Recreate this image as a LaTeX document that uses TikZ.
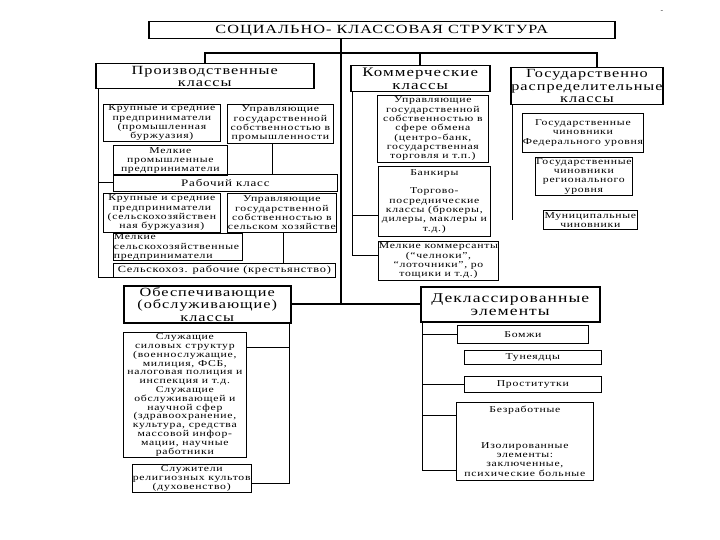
\documentclass[tikz,border=0pt]{standalone}
\usepackage{fontspec}
\newfontfamily\rf[LetterSpace=8,FakeStretch=1.3]{Liberation Serif}
\begin{document}
\begin{tikzpicture}[x=1pt,y=-1pt,
  sz/.style 2 args={minimum width=#1pt, minimum height=#2pt},
  bx/.style={draw, line width=0.7pt, inner sep=0.5pt, align=center, anchor=north west, font=\rf\fontsize{9}{9.3}\selectfont},
  hd/.style={draw, line width=1.5pt, inner sep=0.5pt, align=center, anchor=north west, font=\rf\fontsize{12.5}{12.5}\selectfont},
  md/.style={bx, font=\rf\fontsize{9.5}{11}\selectfont},
  thin/.style={line width=0.7pt},
  trunk/.style={line width=1.6pt}]
\fill[white] (0,0) rectangle (720,540);
\useasboundingbox (0,0) rectangle (720,540);

\node[font=\rf\fontsize{6}{6}\selectfont, inner sep=0pt] (mark) at (662,12) {-};

\node[hd, sz={466}{17}] (title) at (148,21) {СОЦИАЛЬНО- КЛАССОВАЯ СТРУКТУРА};

% production
\node[hd, sz={218}{25}] (prod) at (95,63) {Производственные\\классы};
\node[bx, sz={117}{36}] (krup1) at (103,104) {Крупные и средние\\предприниматели\\(промышленная\\буржуазия)};
\node[bx, sz={106}{39}] (upr1) at (227,104) {Управляющие\\государственной\\собственностью в\\промышленности};
\node[bx, sz={114}{30}] (melk1) at (113,145) {Мелкие\\промышленные\\предприниматели};
\node[md, font=\rf\fontsize{10}{11}\selectfont, sz={224}{17}] (rab) at (113,174) {Рабочий класс};
\node[bx, sz={117}{39}] (krup2) at (103,193) {Крупные и средние\\предприниматели\\(сельскохозяйствен\\ная буржуазия)};
\node[bx, sz={108}{39}] (upr2) at (227,193) {Управляющие\\государственной\\собственностью в\\сельском хозяйстве};
\node[bx, align=left, text width=128pt, minimum height=26pt] (melk2) at (113,233) {Мелкие\\сельскохозяйственные\\предприниматели};
\node[md, sz={222}{14}] (sel) at (113,263) {Сельскохоз. рабочие (крестьянство)};

% commerce
\node[hd, font=\rf\fontsize{13}{12.5}\selectfont, sz={139}{26}] (kom) at (350,65) {Коммерческие\\классы};
\node[bx, sz={111}{67}] (upr3) at (377,95) {Управляющие\\государственной\\собственностью в\\сфере обмена\\(центро-банк,\\государственная\\торговля и т.п.)};
\node[bx, sz={112}{70}] (bank) at (378,166) {Банкиры\\[9pt]Торгово-\\посреднические\\классы (брокеры,\\дилеры, маклеры и\\т.д.)};
\node[bx, sz={120}{39}] (melk3) at (378,241) {Мелкие коммерсанты\\(“челноки”,\\“лоточники”, ро\\тощики и т.д.)};

% state
\node[hd, sz={145}{37}] (gos) at (510,67) {Государственно\\распределительные\\классы};
\node[bx, sz={110}{39}] (fed) at (522,113) {Государственные\\чиновники\\Федерального уровня};
\node[bx, sz={97}{38}] (reg) at (535,157) {Государственные\\чиновники\\регионального\\уровня};
\node[bx, sz={94}{19}] (mun) at (543,210) {Муниципальные\\чиновники};

% service
\node[hd, sz={167}{37}] (obes) at (123,285) {Обеспечивающие\\(обслуживающие)\\классы};
\node[bx, font=\rf\fontsize{9}{8.8}\selectfont, sz={123}{125}] (sl1) at (123,332) {Служащие\\силовых структур\\(военнослужащие,\\милиция, ФСБ,\\налоговая полиция и\\инспекция и т.д.\\Служащие\\обслуживающей и\\научной сфер\\(здравоохранение,\\культура, средства\\массовой инфор-\\мации, научные\\работники};
\node[bx, sz={113}{28}] (sl2) at (132,464) {Служители\\религиозных культов\\(духовенство)};

% declassed
\node[hd, font=\rf\fontsize{13.5}{13}\selectfont, sz={179}{35}] (dekl) at (420,286) {Деклассированные\\элементы};
\node[bx, sz={131}{18}] (bomzh) at (457,325) {Бомжи};
\node[bx, sz={137}{14}] (tun) at (464,350) {Тунеядцы};
\node[bx, sz={137}{16}] (prost) at (464,376) {Проститутки};
\node[bx, sz={137}{78}] (bez) at (456,402) {Безработные\\[26pt]Изолированные\\элементы:\\заключенные,\\психические больные};

% trunk connectors
\coordinate (hb) at (0,53);
\coordinate (tk) at (341,0);
\coordinate (gx) at (597,0);
\draw[trunk] (title.south -| tk) -- (tk |- obes.east);
\draw[trunk] (prod.north) -- (prod.north |- hb) -- (hb -| gx) -- (gx |- gos.north);
\draw[trunk] (kom.north) -- (kom.north |- hb);
\draw[trunk] (obes.east) -- (obes.east -| dekl.west);

% production frame
\coordinate (s1) at (98,0);
\draw[thin] (prod.south -| s1) -- (s1 |- sel.south) -- (sel.south west);
\draw[thin] (s1 |- rab.west) -- (rab.west);
\coordinate (c1) at (272,0);
\draw[thin] (upr1.south -| c1) -- (c1 |- rab.north);
\coordinate (c2) at (283,0);
\draw[thin] (upr2.south -| c2) -- (c2 |- sel.north);

% commerce frame
\coordinate (s2) at (352,0);
\coordinate (s2a) at (0,215);
\coordinate (s2b) at (0,255);
\draw[thin] (kom.south -| s2) -- (s2 |- s2b) -- (s2b -| melk3.west);
\draw[thin] (s2 |- s2a) -- (s2a -| bank.west);

% state frame
\coordinate (s3) at (512,220);
\draw[thin] (gos.south -| s3) -- (s3);

% service frame
\coordinate (s4) at (289,0);
\coordinate (s4a) at (0,347);
\coordinate (s4b) at (0,483);
\draw[thin] (obes.south -| s4) -- (s4 |- s4b) -- (s4b -| sl2.east);
\draw[thin] (s4 |- s4a) -- (s4a -| sl1.east);

% declassed frame
\coordinate (s5) at (422,0);
\coordinate (s5a) at (0,415);
\coordinate (s5b) at (0,470);
\draw[thin] (dekl.south -| s5) -- (s5 |- s5b) -- (s5b -| bez.west);
\draw[thin] (s5 |- bomzh.west) -- (bomzh.west);
\draw[thin] (s5 |- prost.west) -- (prost.west);
\draw[thin] (s5 |- s5a) -- (s5a -| bez.west);
\end{tikzpicture}
\end{document}
